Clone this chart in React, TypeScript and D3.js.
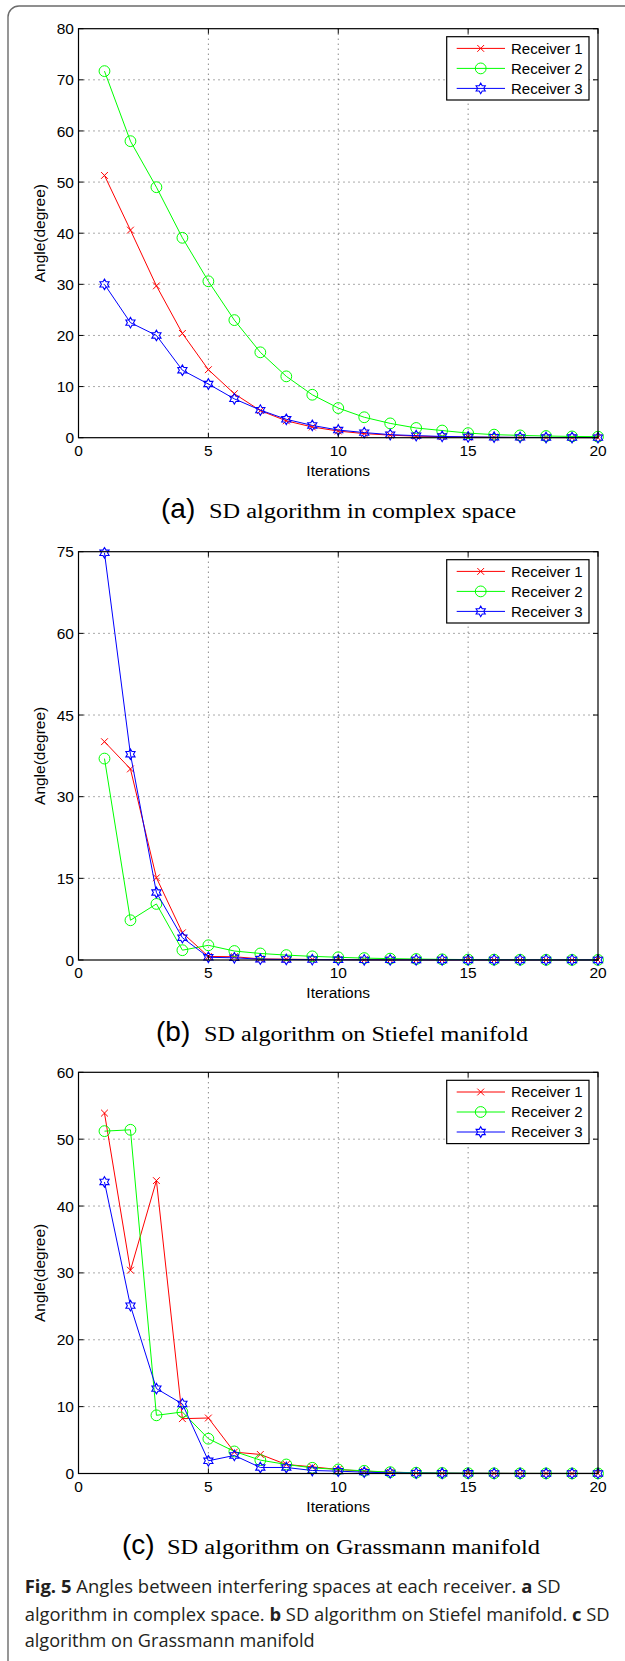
import React, { useRef, useEffect } from "react";
import * as d3 from "d3";

// iteration index shared by all three panels
const iterations = [1, 2, 3, 4, 5, 6, 7, 8, 9, 10, 11, 12, 13, 14, 15, 16, 17, 18, 19, 20];
const xTicks = [0, 5, 10, 15, 20];

const seriesNames = ["Receiver 1", "Receiver 2", "Receiver 3"];
const seriesColors = ["#ff0000", "#00ff00", "#0000ff"];
const seriesMarkers = ["x", "o", "h"];

// (a) SD algorithm in complex space
const complexR1 = [51.3, 40.6, 29.7, 20.4, 13.3, 8.6, 5.3, 3.3, 2.1, 1.3, 0.8, 0.5, 0.3, 0.2, 0.12, 0.08, 0.05, 0.03, 0.02, 0.01];
const complexR2 = [71.7, 58.0, 49.0, 39.1, 30.6, 23.0, 16.7, 12.0, 8.4, 5.8, 4.0, 2.8, 1.9, 1.4, 0.9, 0.6, 0.45, 0.33, 0.25, 0.2];
const complexR3 = [30.0, 22.5, 20.0, 13.2, 10.5, 7.6, 5.4, 3.6, 2.4, 1.5, 1.0, 0.6, 0.4, 0.25, 0.15, 0.1, 0.06, 0.04, 0.03, 0.02];
const complexTicks = [0, 10, 20, 30, 40, 50, 60, 70, 80];

// (b) SD algorithm on Stiefel manifold
const stiefelR1 = [40.1, 35.1, 15.1, 5.0, 0.65, 0.6, 0.2, 0.15, 0.1, 0.08, 0.05, 0.04, 0.03, 0.02, 0.02, 0.01, 0.01, 0.01, 0.01, 0.01];
const stiefelR2 = [37.0, 7.3, 10.3, 1.8, 2.7, 1.65, 1.2, 0.9, 0.67, 0.5, 0.35, 0.25, 0.18, 0.12, 0.08, 0.06, 0.04, 0.03, 0.02, 0.02];
const stiefelR3 = [74.8, 37.8, 12.4, 4.1, 0.5, 0.4, 0.15, 0.1, 0.06, 0.04, 0.03, 0.02, 0.01, 0.01, 0.01, 0.01, 0.01, 0.01, 0.01, 0.01];
const stiefelTicks = [0, 15, 30, 45, 60, 75];

// (c) SD algorithm on Grassmann manifold
const grassR1 = [53.9, 30.4, 43.8, 8.2, 8.3, 3.2, 2.85, 1.35, 1.0, 0.6, 0.35, 0.2, 0.1, 0.06, 0.04, 0.03, 0.02, 0.01, 0.01, 0.01];
const grassR2 = [51.2, 51.4, 8.7, 9.2, 5.2, 3.3, 2.0, 1.35, 0.85, 0.6, 0.4, 0.2, 0.12, 0.08, 0.05, 0.03, 0.02, 0.02, 0.01, 0.01];
const grassR3 = [43.6, 25.1, 12.7, 10.4, 1.9, 2.7, 0.9, 0.9, 0.45, 0.35, 0.2, 0.1, 0.06, 0.04, 0.03, 0.02, 0.01, 0.01, 0.01, 0.01];
const grassTicks = [0, 10, 20, 30, 40, 50, 60];

const captionLetters = ["(a)", "(b)", "(c)"];
const captionTexts = [
  "SD algorithm in complex space",
  "SD algorithm on Stiefel manifold",
  "SD algorithm on Grassmann manifold",
];

const W = 625;
const H = 1661;
const LEFT = 78.5;
const RIGHT = 598;
const SANS = "'Liberation Sans', Arial, Helvetica, sans-serif";

const panels = [
  { top: 28.7, bottom: 437.7, ticks: complexTicks, series: [complexR1, complexR2, complexR3], letterX: 161, textX: 209, textEnd: 516 },
  { top: 551.7, bottom: 960, ticks: stiefelTicks, series: [stiefelR1, stiefelR2, stiefelR3], letterX: 156, textX: 204, textEnd: 528 },
  { top: 1072.3, bottom: 1473.5, ticks: grassTicks, series: [grassR1, grassR2, grassR3], letterX: 122, textX: 167, textEnd: 540 },
];

function hexagram(cx, cy, R) {
  const pts = [];
  for (let k = 0; k < 12; k++) {
    const a = -Math.PI / 2 + (k * Math.PI) / 6;
    const r = k % 2 === 0 ? R : R / Math.sqrt(3);
    pts.push([cx + r * Math.cos(a), cy + r * Math.sin(a)]);
  }
  return "M" + pts.map((p) => p.join(",")).join("L") + "Z";
}

function drawMarker(g, type, cx, cy, color) {
  if (type === "x") {
    const s = 3.4;
    g.append("path")
      .attr("d", `M${cx - s},${cy - s}L${cx + s},${cy + s}M${cx - s},${cy + s}L${cx + s},${cy - s}`)
      .attr("stroke", color)
      .attr("stroke-width", 1)
      .attr("fill", "none");
  } else if (type === "o") {
    g.append("circle")
      .attr("cx", cx)
      .attr("cy", cy)
      .attr("r", 5.4)
      .attr("stroke", color)
      .attr("stroke-width", 1)
      .attr("fill", "none");
  } else {
    g.append("path")
      .attr("d", hexagram(cx, cy, 5.3))
      .attr("stroke", color)
      .attr("stroke-width", 1.1)
      .attr("fill", "none");
  }
}

function drawPanel(svg, p, idx) {
  const x = d3.scaleLinear().domain([0, 20]).range([LEFT, RIGHT]);
  const y = d3.scaleLinear().domain([0, p.ticks[p.ticks.length - 1]]).range([p.bottom, p.top]);
  const g = svg.append("g");

  // dotted grid
  xTicks.slice(1, -1).forEach((t) => {
    g.append("line")
      .attr("x1", x(t)).attr("x2", x(t))
      .attr("y1", p.top).attr("y2", p.bottom)
      .attr("stroke", "#555")
      .attr("stroke-dasharray", "1,4");
  });
  p.ticks.slice(1, -1).forEach((t) => {
    g.append("line")
      .attr("x1", LEFT).attr("x2", RIGHT)
      .attr("y1", y(t)).attr("y2", y(t))
      .attr("stroke", "#555")
      .attr("stroke-dasharray", "1,4");
  });

  // series
  const line = d3.line().x((d) => x(d[0])).y((d) => y(d[1]));
  p.series.forEach((vals, si) => {
    const pts = iterations.map((it, i) => [it, vals[i]]);
    g.append("path")
      .attr("d", line(pts))
      .attr("fill", "none")
      .attr("stroke", seriesColors[si])
      .attr("stroke-width", 1);
    pts.forEach((d) => drawMarker(g, seriesMarkers[si], x(d[0]), y(d[1]), seriesColors[si]));
  });

  // axes box
  g.append("rect")
    .attr("x", LEFT).attr("y", p.top)
    .attr("width", RIGHT - LEFT).attr("height", p.bottom - p.top)
    .attr("fill", "none").attr("stroke", "#000").attr("stroke-width", 1.2);

  // inward ticks
  xTicks.forEach((t) => {
    g.append("line").attr("x1", x(t)).attr("x2", x(t)).attr("y1", p.bottom).attr("y2", p.bottom - 5).attr("stroke", "#000");
    g.append("line").attr("x1", x(t)).attr("x2", x(t)).attr("y1", p.top).attr("y2", p.top + 5).attr("stroke", "#000");
    g.append("text")
      .attr("x", x(t)).attr("y", p.bottom + 18)
      .attr("text-anchor", "middle")
      .attr("font-family", SANS).attr("font-size", 15.5)
      .text(t);
  });
  p.ticks.forEach((t) => {
    g.append("line").attr("x1", LEFT).attr("x2", LEFT + 5).attr("y1", y(t)).attr("y2", y(t)).attr("stroke", "#000");
    g.append("line").attr("x1", RIGHT - 5).attr("x2", RIGHT).attr("y1", y(t)).attr("y2", y(t)).attr("stroke", "#000");
    g.append("text")
      .attr("x", LEFT - 4.5).attr("y", y(t))
      .attr("dy", "0.36em")
      .attr("text-anchor", "end")
      .attr("font-family", SANS).attr("font-size", 15.5)
      .text(t);
  });

  // axis labels
  g.append("text")
    .attr("x", (LEFT + RIGHT) / 2).attr("y", p.bottom + 38)
    .attr("text-anchor", "middle")
    .attr("font-family", SANS).attr("font-size", 15.5)
    .text("Iterations");
  g.append("text")
    .attr("transform", `translate(45, ${(p.top + p.bottom) / 2}) rotate(-90)`)
    .attr("text-anchor", "middle")
    .attr("font-family", SANS).attr("font-size", 15.5)
    .text("Angle(degree)");

  // legend
  const lx = 446.7;
  const lw = 142.3;
  const leg = g.append("g").attr("transform", `translate(${lx}, ${p.top + 8})`);
  leg.append("rect")
    .attr("width", lw).attr("height", 63.3)
    .attr("fill", "#fff").attr("stroke", "#000").attr("stroke-width", 1.2);
  seriesNames.forEach((name, si) => {
    const ry = 11.7 + si * 20;
    leg.append("line")
      .attr("x1", 10).attr("x2", 58.3).attr("y1", ry).attr("y2", ry)
      .attr("stroke", seriesColors[si]).attr("stroke-width", 1);
    drawMarker(leg, seriesMarkers[si], 34, ry, seriesColors[si]);
    leg.append("text")
      .attr("x", 64.3).attr("y", ry)
      .attr("dy", "0.36em")
      .attr("font-family", SANS).attr("font-size", 15)
      .text(name);
  });

  // sub caption
  const cy = p.bottom + 80.5;
  g.append("text")
    .attr("x", p.letterX).attr("y", cy)
    .attr("font-family", SANS).attr("font-size", 28)
    .text(captionLetters[idx]);
  g.append("text")
    .attr("x", p.textX).attr("y", cy)
    .attr("font-family", "'Liberation Serif', 'Times New Roman', serif")
    .attr("font-size", 20)
    .attr("textLength", p.textEnd - p.textX)
    .attr("lengthAdjust", "spacingAndGlyphs")
    .text(captionTexts[idx]);
}

function FigureFive() {
  const svgRef = useRef(null);

  useEffect(() => {
    const svg = d3.select(svgRef.current);
    svg.selectAll("*").remove();

    svg.append("rect").attr("width", W).attr("height", H).attr("fill", "#fff");

    // rounded frame of the figure box (open to the right and bottom)
    svg.append("path")
      .attr("d", `M8,${H + 10}L8,17A11,11 0 0 1 19,6L${W + 10},6`)
      .attr("fill", "none")
      .attr("stroke", "#6b6b6b")
      .attr("stroke-width", 1.4);

    panels.forEach((p, i) => drawPanel(svg, p, i));

    // figure caption
    const capFont = "'Open Sans', 'Noto Sans', sans-serif";
    const lines = [
      { y: 1593.3, len: 536, parts: [["Fig. 5", true], [" Angles between interfering spaces at each receiver. ", false], ["a", true], [" SD", false]] },
      { y: 1620.5, len: 585, parts: [["algorithm in complex space. ", false], ["b", true], [" SD algorithm on Stiefel manifold. ", false], ["c", true], [" SD", false]] },
      { y: 1647, len: 290, parts: [["algorithm on Grassmann manifold", false]] },
    ];
    lines.forEach((ln) => {
      const t = svg.append("text")
        .attr("x", 24.7).attr("y", ln.y)
        .attr("font-family", capFont).attr("font-size", 18)
        .attr("fill", "#231f20")
        .attr("textLength", ln.len)
        .attr("lengthAdjust", "spacingAndGlyphs")
        .attr("xml:space", "preserve");
      ln.parts.forEach(([s, bold]) => {
        t.append("tspan").attr("font-weight", bold ? "bold" : "normal").text(s);
      });
    });
  }, []);

  return (
    <svg
      ref={svgRef}
      width={W}
      height={H}
      style={{ position: "absolute", left: 0, top: 0, display: "block" }}
    ></svg>
  );
}

export default function App() {
  return <FigureFive />;
}
